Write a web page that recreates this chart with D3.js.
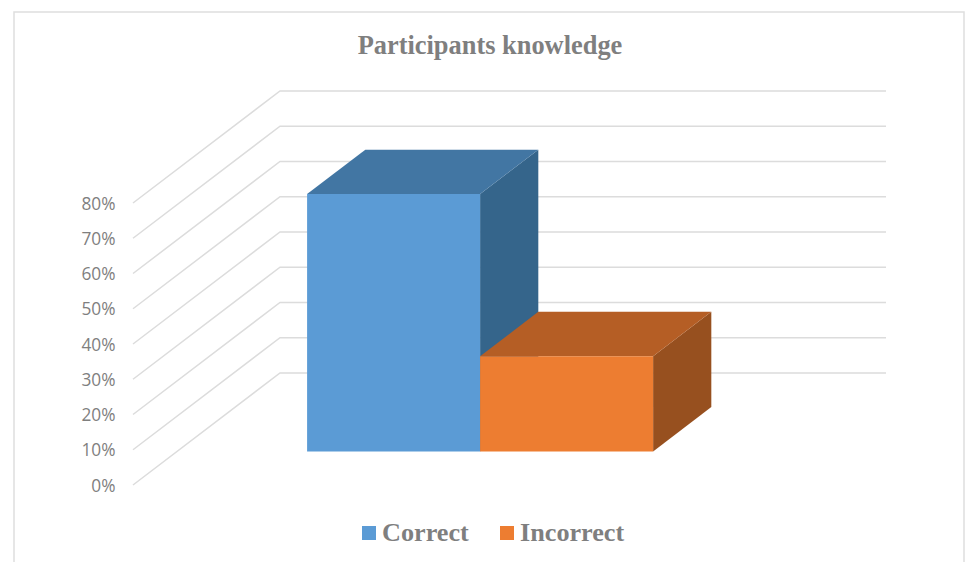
<!DOCTYPE html>
<html>
<head>
<meta charset="utf-8">
<title>Participants knowledge</title>
<script src="https://cdn.jsdelivr.net/npm/d3@7"></script>
<style>
	body { margin: 0; background: #fff; overflow: hidden; }
	svg { display: block; }
	.serif { font-family: "Liberation Serif", serif; font-weight: bold; fill: #7f7f7f; }
	.y-axis text { font-family: "Open Sans", sans-serif; font-size: 17.3px; fill: #7f7f7f; }
</style>
</head>
<body>
<div id="chart"></div>
<script>
'use strict';

const title = "Participants knowledge";
const categories = ["Correct", "Incorrect"];
const values = [73, 27];
const y_ticks = [0, 10, 20, 30, 40, 50, 60, 70, 80];

const front_colors = ["#5b9bd5", "#ed7d31"];
const top_colors = ["#4276a3", "#b55e25"];
const side_colors = ["#35658b", "#97501f"];

window.onload = function()
{
	const width = 965;
	const height = 562;

	// the chart floor goes this far up and right from front to back
	const depth_x = 147;
	const depth_y = 112;

	// where the bars sit in the depth of the floor, 0 is front and 1 is back
	const bar_front = 0.3;
	const bar_back = 0.696;

	const y = d3.scaleLinear()
		.domain([0, 80])
		.range([485, 203]);

	const x = d3.scaleBand()
		.domain(categories)
		.range([133, 739])
		.paddingInner(0)
		.paddingOuter(0.7514);

	function project(px, value, t)
	{
		return [px + depth_x * t, y(value) - depth_y * t];
	}

	const svg = d3.select("#chart")
		.append("svg")
			.attr("width", width)
			.attr("height", height);

	// chart border, the bottom edge falls outside the picture
	svg.append("rect")
		.attr("x", 14)
		.attr("y", 12)
		.attr("width", 950)
		.attr("height", 570)
		.attr("fill", "none")
		.attr("stroke", "#dedede")
		.attr("stroke-width", 1.5);

	svg.append("text")
		.attr("class", "serif")
		.attr("x", 490)
		.attr("y", 53.5)
		.attr("text-anchor", "middle")
		.style("font-size", "26.4px")
		.text(title);

	// gridlines run along the side wall, then along the back wall
	const grid_line = d3.line();
	svg.append("g")
		.attr("class", "grid")
		.selectAll("path")
		.data(y_ticks)
		.join("path")
			.attr("d", d => grid_line([
				project(x.range()[0], d, 0),
				project(x.range()[0], d, 1),
				project(x.range()[1], d, 1)
			]))
			.attr("fill", "none")
			.attr("stroke", "#dcdcdc")
			.attr("stroke-width", 1.5);

	const y_axis = d3.axisLeft(y)
		.tickValues(y_ticks)
		.tickSize(0)
		.tickPadding(0)
		.tickFormat(d => d + "%");

	svg.append("g")
		.attr("class", "y-axis")
		.attr("transform", "translate(115.5,0.7)")
		.call(y_axis)
		.call(g => g.select(".domain").remove());

	// bars left to right, so the second one covers the side of the first
	const polygon = d3.line();
	const bars = svg.selectAll("g.bar")
		.data(categories)
		.join("g")
			.attr("class", "bar");

	bars.append("path")
		.attr("fill", (d, i) => side_colors[i])
		.attr("d", function(d, i) {
			const right = x(d) + x.bandwidth();
			return polygon([
				project(right, values[i], bar_front),
				project(right, values[i], bar_back),
				project(right, 0, bar_back),
				project(right, 0, bar_front)
			]) + "Z";
		});

	bars.append("path")
		.attr("fill", (d, i) => top_colors[i])
		.attr("d", function(d, i) {
			const left = x(d);
			const right = left + x.bandwidth();
			return polygon([
				project(left, values[i], bar_front),
				project(left, values[i], bar_back),
				project(right, values[i], bar_back),
				project(right, values[i], bar_front)
			]) + "Z";
		});

	bars.append("path")
		.attr("fill", (d, i) => front_colors[i])
		.attr("d", function(d, i) {
			const left = x(d);
			const right = left + x.bandwidth();
			return polygon([
				project(left, values[i], bar_front),
				project(right, values[i], bar_front),
				project(right, 0, bar_front),
				project(left, 0, bar_front)
			]) + "Z";
		});

	const legend_x = d3.scaleOrdinal()
		.domain(categories)
		.range([362, 500]);

	const legend = svg.selectAll("g.legend")
		.data(categories)
		.join("g")
			.attr("class", "legend")
			.attr("transform", d => `translate(${legend_x(d)},526)`);

	legend.append("rect")
		.attr("width", 14)
		.attr("height", 14)
		.attr("fill", (d, i) => front_colors[i]);

	legend.append("text")
		.attr("class", "serif")
		.attr("x", 20)
		.attr("y", 15)
		.style("font-size", "26.2px")
		.text(d => d);
}
</script>
</body>
</html>
